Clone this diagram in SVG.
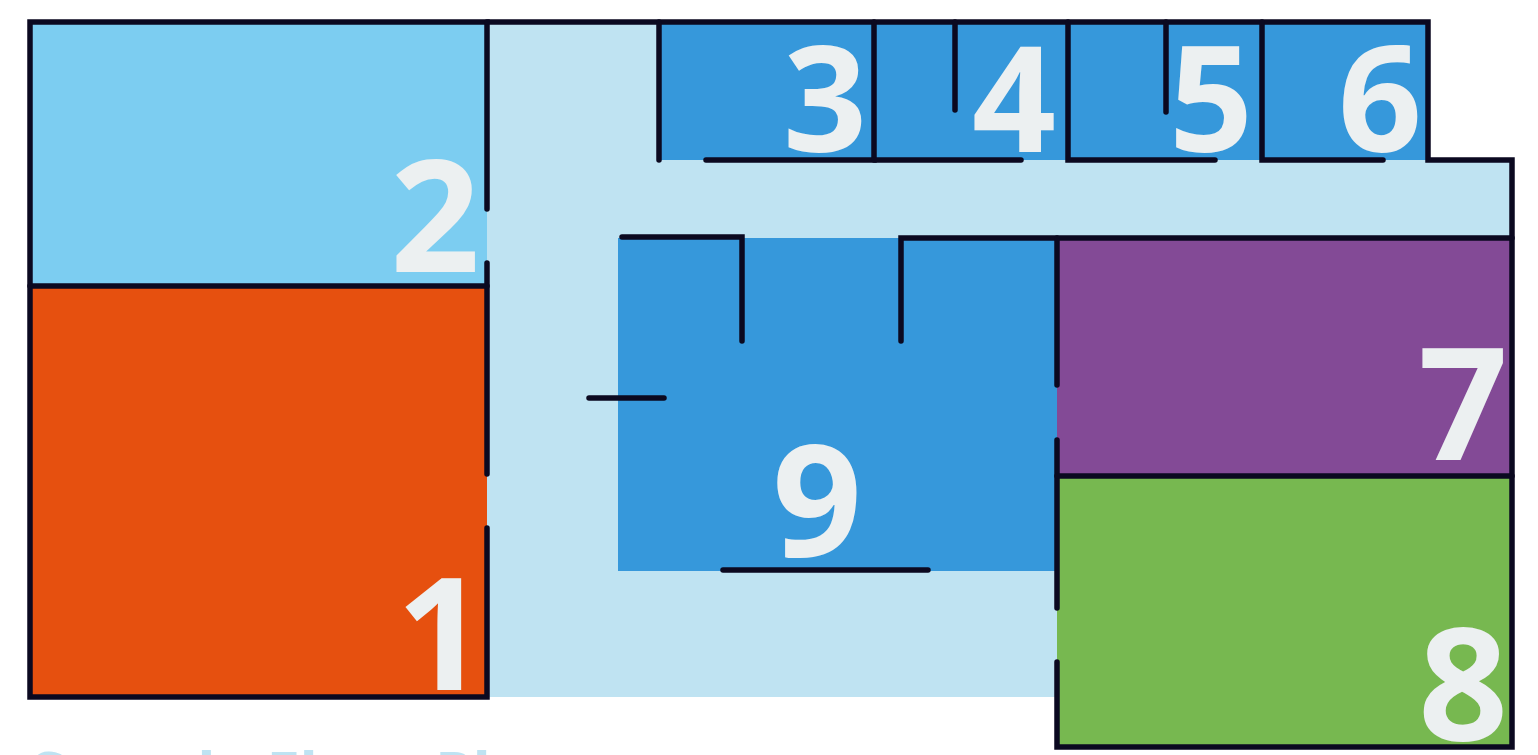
<svg xmlns="http://www.w3.org/2000/svg" width="1538" height="755" viewBox="0 0 1538 755">
<style>
.wall{fill:none;stroke:#0b0920;stroke-width:5.5;stroke-linecap:round;stroke-linejoin:miter}
.num{font-family:"Open Sans","Noto Sans","Liberation Sans",sans-serif;font-weight:700;font-size:157px;fill:#ecf0f1;text-anchor:end}
.sm{font-size:147px}
.blue{fill:#3698db}
</style>
<rect x="0" y="0" width="1538" height="755" fill="#ffffff"/>
<g id="corridor">
<path d="M487,22 H1428 V160 H1512 V238 H1057 V697 H487 Z" fill="#bfe3f2"/>
</g>
<g id="room2"><rect x="30" y="22" width="457" height="264" fill="#7ccdf1"/><text class="num" x="480" y="272">2</text></g>
<g id="room1"><rect x="30" y="286" width="457" height="411" fill="#e6500f"/><text class="num" x="486" y="690">1</text></g>
<g id="room3"><rect class="blue" x="659" y="22" width="215" height="138"/><text class="num sm" x="867" y="152">3</text></g>
<g id="room4"><rect class="blue" x="874" y="22" width="194" height="138"/><text class="num sm" x="1056" y="152">4</text></g>
<g id="room5"><rect class="blue" x="1068" y="22" width="194" height="138"/><text class="num sm" x="1253" y="152">5</text></g>
<g id="room6"><rect class="blue" x="1262" y="22" width="166" height="138"/><text class="num sm" x="1422" y="152">6</text></g>
<g id="room9"><rect class="blue" x="618" y="238" width="439" height="333"/><text class="num" x="862" y="557">9</text></g>
<g id="room7"><rect x="1057" y="238" width="455" height="238" fill="#834a96"/><text class="num" x="1508" y="460">7</text></g>
<g id="room8"><rect x="1057" y="476" width="455" height="271" fill="#77b850"/><text class="num" x="1508" y="740">8</text></g>
<g id="walls">
<path class="wall" d="M487,209 V22 H30 V697 H487 V528"/>
<path class="wall" d="M487,263 V474"/>
<path class="wall" d="M30,286 H487"/>
<path class="wall" d="M487,22 H1428 V160 H1512 V747 H1057 V662"/>
<path class="wall" d="M659,22 V160"/>
<path class="wall" d="M706,160 H874 V22"/>
<path class="wall" d="M874,160 H1021"/>
<path class="wall" d="M955,22 V110"/>
<path class="wall" d="M1068,22 V160 H1215"/>
<path class="wall" d="M1166,22 V112"/>
<path class="wall" d="M1262,22 V160 H1383"/>
<path class="wall" d="M622,237 H742 V341"/>
<path class="wall" d="M901,341 V238 H1512"/>
<path class="wall" d="M589,398 H664"/>
<path class="wall" d="M723,570 H928"/>
<path class="wall" d="M1057,238 V385"/>
<path class="wall" d="M1057,440 V608"/>
<path class="wall" d="M1057,476 H1512"/>
</g>
<text x="31" y="796" font-family="'Open Sans','Liberation Sans',sans-serif" font-weight="700" font-size="60" fill="#bfe3f2">Sample Floor Plan</text>
</svg>
